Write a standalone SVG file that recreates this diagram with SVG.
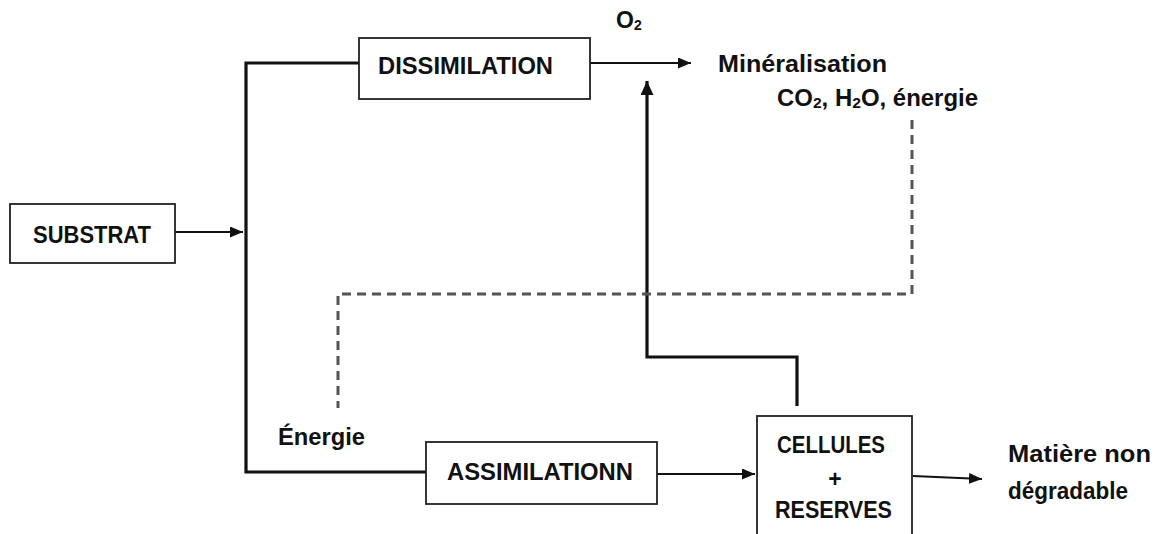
<svg xmlns="http://www.w3.org/2000/svg" width="1156" height="534" viewBox="0 0 1156 534">
<defs>
<style>
.box{fill:#fff;stroke:#222;stroke-width:1.8}
.t{font-family:"Liberation Sans",Arial,sans-serif;font-weight:bold;font-size:23px;fill:#111}
.thin{fill:none;stroke:#111;stroke-width:1.8}
.thick{fill:none;stroke:#111;stroke-width:3.2}
.dash{fill:none;stroke:#555;stroke-width:3;stroke-dasharray:9 6}
</style>
<marker id="ah" viewBox="0 0 13 11" refX="13" refY="5.5" markerWidth="13" markerHeight="11" markerUnits="userSpaceOnUse" orient="auto">
<path d="M0,0 L13,5.5 L0,11 z" fill="#111"/>
</marker>
<marker id="ahb" viewBox="0 0 14 13" refX="14" refY="6.5" markerWidth="14" markerHeight="13" markerUnits="userSpaceOnUse" orient="auto">
<path d="M0,0 L14,6.5 L0,13 z" fill="#111"/>
</marker>
</defs>
<g id="connectors">
<path class="thin" d="M175,232 H243" marker-end="url(#ah)"/>
<path class="thick" d="M360,63 H246 V472 H427"/>
<path class="thin" d="M590,63 H691" marker-end="url(#ah)"/>
<path class="thick" d="M797,406 V357 H647 V81" marker-end="url(#ahb)"/>
<path class="dash" d="M912,120 V294 H338 V408"/>
<path class="thin" d="M657,474 H755" marker-end="url(#ah)"/>
<path class="thin" d="M913,476 L982,479" marker-end="url(#ah)"/>
</g>
<g id="substrat">
<rect class="box" x="10" y="204" width="165" height="59"/>
<text class="t" x="33" y="243" textLength="118" lengthAdjust="spacingAndGlyphs">SUBSTRAT</text>
</g>
<g id="dissimilation">
<rect class="box" x="359" y="38" width="231" height="61"/>
<text class="t" x="378" y="74" textLength="175" lengthAdjust="spacingAndGlyphs">DISSIMILATION</text>
</g>
<g id="o2">
<text class="t" x="616" y="28" font-size="19">O<tspan font-size="14" dy="2">2</tspan></text>
</g>
<g id="mineralisation">
<text class="t" x="718" y="72" textLength="169" lengthAdjust="spacingAndGlyphs">Minéralisation</text>
</g>
<g id="produits">
<text class="t" x="777" y="106" textLength="201" lengthAdjust="spacingAndGlyphs">CO<tspan font-size="15" dy="2">2</tspan><tspan dy="-2">, H</tspan><tspan font-size="15" dy="2">2</tspan><tspan dy="-2">O, énergie</tspan></text>
</g>
<g id="energie">
<text class="t" x="278" y="445" textLength="87" lengthAdjust="spacingAndGlyphs">Énergie</text>
</g>
<g id="assimilation">
<rect class="box" x="426" y="442" width="231" height="62"/>
<text class="t" x="447" y="480" textLength="186" lengthAdjust="spacingAndGlyphs">ASSIMILATIONN</text>
</g>
<g id="cellules">
<rect class="box" x="757" y="416" width="155" height="119"/>
<text class="t" x="777" y="453" textLength="108" lengthAdjust="spacingAndGlyphs">CELLULES</text>
<text class="t" x="835" y="487" text-anchor="middle" font-size="25">+</text>
<text class="t" x="775" y="518" textLength="117" lengthAdjust="spacingAndGlyphs">RESERVES</text>
</g>
<g id="matiere">
<text class="t" x="1008" y="462" textLength="143" lengthAdjust="spacingAndGlyphs">Matière non</text>
<text class="t" x="1008" y="499" textLength="120" lengthAdjust="spacingAndGlyphs">dégradable</text>
</g>
</svg>
